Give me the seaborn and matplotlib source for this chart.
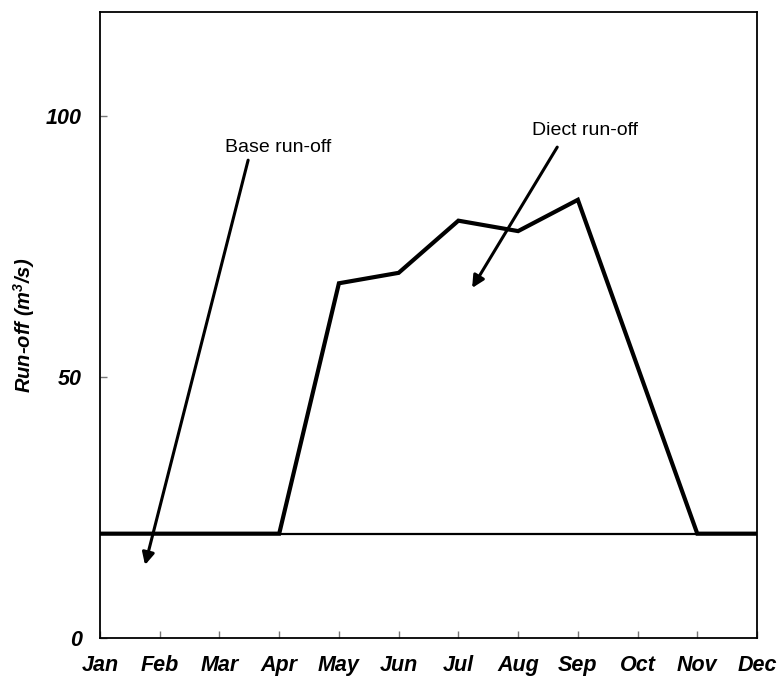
import matplotlib
matplotlib.use("Agg")
import matplotlib.pyplot as plt
import seaborn as sns
import pandas as pd

months = ["Jan", "Feb", "Mar", "Apr", "May", "Jun",
          "Jul", "Aug", "Sep", "Oct", "Nov", "Dec"]
direct_runoff = [20, 20, 20, 20, 68, 70, 80, 78, 84, 52, 20, 20]
base_runoff = [20, 20, 20, 20, 20, 20, 20, 20, 20, 20, 20, 20]
y_ticks = [0, 50, 100]

sns.set_theme(style="white")
plt.rcParams["font.family"] = ["Liberation Sans", "DejaVu Sans"]
plt.rcParams["text.color"] = "black"
plt.rcParams["axes.labelcolor"] = "black"
plt.rcParams["mathtext.fontset"] = "custom"
plt.rcParams["mathtext.rm"] = "Liberation Sans:italic:bold"
plt.rcParams["mathtext.it"] = "Liberation Sans:italic:bold"
plt.rcParams["mathtext.bf"] = "Liberation Sans:italic:bold"

df = pd.DataFrame({
    "idx": list(range(len(months))),
    "direct": direct_runoff,
    "base": base_runoff,
})

fig = plt.figure(figsize=(7.77, 6.82), dpi=100)
ax = fig.add_axes([0.1287, 0.0645, 0.8456, 0.9179])

sns.lineplot(data=df, x="idx", y="base", ax=ax, color="black", lw=1.6)
sns.lineplot(data=df, x="idx", y="direct", ax=ax, color="black", lw=3.0,
             solid_joinstyle="miter")

ax.set_xlim(0, 11)
ax.set_ylim(0, 120)
ax.set_xticks(range(len(months)))
ax.set_xticklabels(months)
ax.set_yticks(y_ticks)

for lbl in ax.get_xticklabels() + ax.get_yticklabels():
    lbl.set_fontsize(15.5)
    lbl.set_fontweight("bold")
    lbl.set_fontstyle("italic")
    lbl.set_color("black")

ax.tick_params(axis="x", direction="in", length=5, width=1, color="#777777",
               pad=12, bottom=True)
ax.tick_params(axis="y", direction="in", length=5, width=1, color="#777777",
               pad=13, left=True)

ax.set_xlabel("")
ax.set_ylabel(r"Run-off (m$^3$/s)", fontsize=14.5, fontweight="bold",
              fontstyle="italic", color="black")
ax.yaxis.set_label_coords(-0.096, 0.5)

for sp in ax.spines.values():
    sp.set_color("black")
    sp.set_linewidth(1.3)
    sp.set_visible(True)

arrow = dict(arrowstyle="-|>", color="black", lw=2.2, mutation_scale=18,
             shrinkA=0, shrinkB=0)
ax.annotate("", xy=(0.754, 14.0), xytext=(2.48, 91.6), arrowprops=arrow)
ax.annotate("", xy=(6.23, 67.1), xytext=(7.655, 94.1), arrowprops=arrow)
ax.text(2.98, 94.1, "Base run-off", fontsize=14, color="black",
        ha="center", va="center")
ax.text(8.12, 97.2, "Diect run-off", fontsize=14, color="black",
        ha="center", va="center")

fig.savefig("out.png", dpi=100)
